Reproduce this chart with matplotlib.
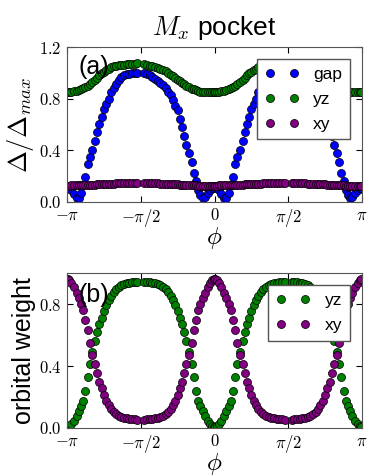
import numpy as np
import matplotlib
matplotlib.use('Agg')
import matplotlib.pyplot as plt

plt.rcParams['font.family'] = ['Liberation Sans', 'DejaVu Sans']
plt.rcParams['mathtext.fontset'] = 'cm'

# sample angles (units of pi) for one period, phi in [-pi, 0); data repeats with period pi
q_left = [0.005, 0.015, 0.03, 0.047, 0.065, 0.08, 0.095, 0.11, 0.125, 0.14,
          0.155, 0.172, 0.19, 0.205, 0.22, 0.235, 0.25, 0.266, 0.282, 0.298,
          0.315, 0.332, 0.35, 0.368, 0.386, 0.404, 0.422, 0.44, 0.458, 0.475]

# panel (a): phi in [-pi, -pi/2) then [-pi/2, 0)
gap = [0.12, 0.11, 0.088, 0.057, 0.033, 0.03, 0.07, 0.13, 0.19, 0.29,
       0.35, 0.40, 0.47, 0.54, 0.60, 0.66, 0.72, 0.755, 0.80, 0.85,
       0.885, 0.915, 0.945, 0.965, 0.98, 0.99, 0.995, 0.998, 1.0, 1.0,
       0.998, 0.993, 0.984, 0.97, 0.952, 0.938, 0.925, 0.905, 0.88, 0.85,
       0.83, 0.79, 0.745, 0.71, 0.64, 0.58, 0.51, 0.44, 0.38, 0.307,
       0.22, 0.16, 0.09, 0.05, 0.032, 0.04, 0.065, 0.09, 0.105, 0.11]
yz_a = [0.853, 0.853, 0.855, 0.857, 0.862, 0.867, 0.872, 0.88, 0.887, 0.9,
        0.913, 0.928, 0.945, 0.964, 0.982, 0.997, 1.01, 1.023, 1.033, 1.042,
        1.05, 1.056, 1.06, 1.063, 1.065, 1.067, 1.069, 1.071, 1.072, 1.073,
        1.069, 1.063, 1.057, 1.051, 1.046, 1.039, 1.031, 1.023, 1.014, 1.003,
        0.986, 0.975, 0.963, 0.948, 0.935, 0.923, 0.911, 0.899, 0.889, 0.879,
        0.872, 0.866, 0.861, 0.855, 0.854, 0.853, 0.853, 0.853, 0.853, 0.853]
xy_a = [0.126, 0.126, 0.127, 0.127, 0.128, 0.128, 0.129, 0.13, 0.13, 0.131,
        0.132, 0.133, 0.134, 0.135, 0.136, 0.137, 0.138, 0.139, 0.14, 0.141,
        0.142, 0.143, 0.144, 0.145, 0.145, 0.146, 0.146, 0.147, 0.147, 0.147,
        0.147, 0.146, 0.146, 0.145, 0.144, 0.143, 0.142, 0.141, 0.14, 0.139,
        0.138, 0.137, 0.136, 0.135, 0.134, 0.133, 0.132, 0.131, 0.13, 0.129,
        0.128, 0.127, 0.126, 0.126, 0.125, 0.125, 0.125, 0.125, 0.125, 0.125]

# panel (b): orbital weights, phi in [-pi, -pi/2)
yz_b_left = [0.005, 0.014, 0.028, 0.045, 0.075, 0.11, 0.14, 0.175, 0.24, 0.33,
             0.41, 0.49, 0.565, 0.62, 0.675, 0.71, 0.755, 0.795, 0.83, 0.855,
             0.88, 0.9, 0.912, 0.922, 0.93, 0.935, 0.94, 0.942, 0.944, 0.945]
xy_b_left = [0.965, 0.956, 0.935, 0.91, 0.875, 0.84, 0.8, 0.76, 0.7, 0.63,
             0.55, 0.47, 0.41, 0.355, 0.30, 0.255, 0.21, 0.175, 0.145, 0.12,
             0.105, 0.09, 0.08, 0.072, 0.066, 0.062, 0.058, 0.056, 0.055, 0.054]

q = np.array(q_left)
phi_half = np.concatenate([-1 + q, -q[::-1]])
phi = np.concatenate([phi_half, phi_half + 1]) * np.pi

def full(v):
    return np.concatenate([v, v])

yz_b = full(list(yz_b_left) + yz_b_left[::-1])
xy_b = full(list(xy_b_left) + xy_b_left[::-1])

xticks = [-np.pi, -np.pi/2, 0, np.pi/2, np.pi]
xticklabels = [r'$-\pi$', r'$-\pi/2$', r'$0$', r'$\pi/2$', r'$\pi$']

fig = plt.figure(figsize=(3.81, 4.76), dpi=100)
ax1 = fig.add_axes([0.176, 0.576, 0.774, 0.325])
ax2 = fig.add_axes([0.176, 0.101, 0.774, 0.325])

mk = dict(ls='none', marker='o', ms=5.8, mec='k', mew=0.5)
ax1.plot(phi, full(gap), color='blue', label='gap', **mk)
ax1.plot(phi, full(yz_a), color='green', label='yz', **mk)
ax1.plot(phi, full(xy_a), color='purple', label='xy', **mk)

ax2.plot(phi, yz_b, color='green', label='yz', **mk)
ax2.plot(phi, xy_b, color='purple', label='xy', **mk)

for ax, ylim, yt in [(ax1, 1.2, [0, 0.4, 0.8, 1.2]), (ax2, 1.0, [0, 0.4, 0.8])]:
    ax.set_xlim(-np.pi, np.pi)
    ax.set_ylim(0, ylim)
    ax.set_xticks(xticks)
    ax.set_xticklabels(xticklabels)
    ax.set_yticks(yt)
    ax.set_yticklabels(['$%.1f$' % v for v in yt])
    ax.tick_params(direction='in', top=True, right=True, length=4, labelsize=12, pad=4)
    ax.set_xlabel(r'$\phi$', fontsize=18, labelpad=-3)
    for s in ax.spines.values():
        s.set_color('#555555')
    leg = ax.legend(loc='upper right', numpoints=2, fontsize=12.5, fancybox=False,
                    framealpha=1, edgecolor='#555555', handlelength=2.0,
                    handletextpad=0.8, borderaxespad=0.7, labelspacing=0.55,
                    borderpad=0.45)
    leg.get_frame().set_linewidth(1.0)

ax1.set_ylabel(r'$\Delta/\Delta_{max}$', fontsize=19, labelpad=2)
ax2.set_ylabel('orbital weight', fontsize=18, labelpad=2)
ax1.set_title(r'$M_x$ pocket', fontsize=19, pad=9)
ax1.text(0.04, 0.826, '(a)', transform=ax1.transAxes, fontsize=18)
ax2.text(0.04, 0.813, '(b)', transform=ax2.transAxes, fontsize=18)

fig.savefig('out.png', dpi=100)
